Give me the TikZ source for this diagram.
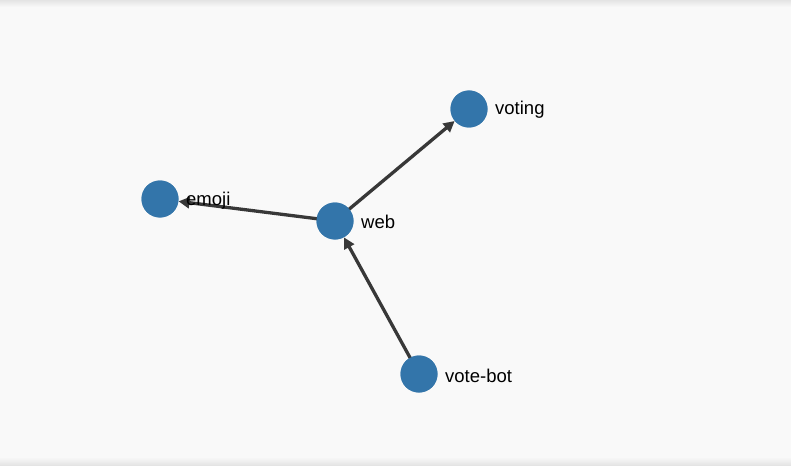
\documentclass[tikz,border=0pt]{standalone}
\usepackage{fontspec}
\setmainfont{Liberation Sans}
\usetikzlibrary{arrows.meta}
\definecolor{bg}{HTML}{F9F9F9}
\definecolor{shadow}{HTML}{E4E4E4}
\definecolor{nodeblue}{HTML}{3375AA}
\definecolor{edgegray}{HTML}{383838}
\tikzset{
  vertex/.style={circle, fill=nodeblue, minimum size=37pt, inner sep=0pt},
  vlabel/.style={anchor=west, font=\fontsize{18.5}{22}\selectfont, text=black, inner sep=0pt},
  link/.style={draw=edgegray, line width=3.3pt, -{Triangle[length=11pt,width=11pt]}}
}
\begin{document}
\begin{tikzpicture}[x=1pt,y=-1pt]
\useasboundingbox (0,0) rectangle (791,465);
\fill[bg] (0,0) rectangle (791,465);
\shade[top color=shadow, bottom color=bg] (0,0) rectangle (791,7);
\shade[top color=bg, bottom color=shadow] (0,457) rectangle (791,465);
% node positions
\node[vertex] (voting) at (469,109) {};
\node[vertex] (emoji) at (160,199) {};
\node[vertex] (web) at (335,221) {};
\node[vertex] (votebot) at (419,374) {};
% edges
\draw[link] (web.center) -- (voting);
\draw[link] (web.center) -- (emoji);
\draw[link] (votebot.center) -- (web);
% redraw nodes above edges
\node[vertex] at (voting.center) {};
\node[vertex] at (emoji.center) {};
\node[vertex] at (web.center) {};
\node[vertex] at (votebot.center) {};
% labels
\node[vlabel] (lvoting) at (495,110) {voting};
\node[vlabel] (lemoji) at (186,201) {emoji};
\node[vlabel] (lweb) at (361,222) {web};
\node[vlabel] (lvotebot) at (445,376) {vote-bot};
\end{tikzpicture}
\end{document}
